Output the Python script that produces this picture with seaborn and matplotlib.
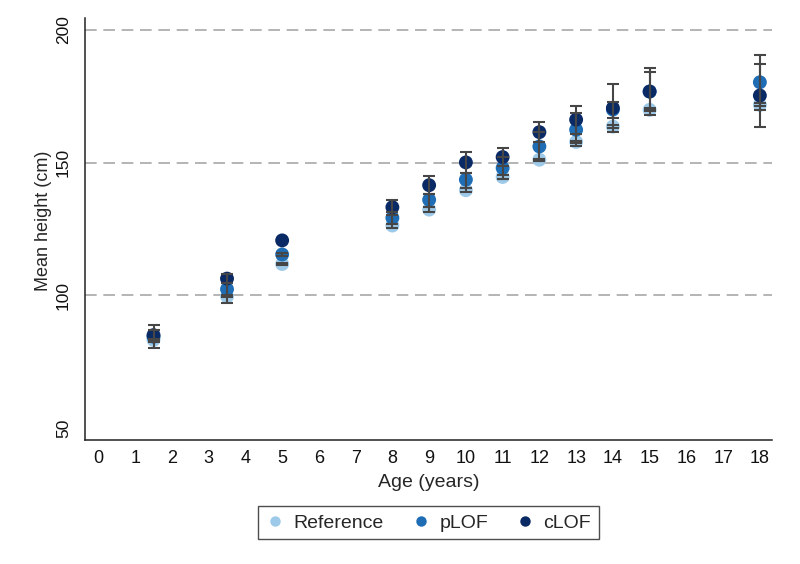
import numpy as np
import pandas as pd
import matplotlib
matplotlib.use("Agg")
import matplotlib.pyplot as plt
import seaborn as sns

# values
ages = [1.5, 3.5, 5, 8, 9, 10, 11, 12, 13, 14, 15, 18]

ref_mean = [83.2, 99.6, 111.8, 126.3, 132.3, 139.6, 144.6, 151.1, 157.8, 163.6, 169.9, 171.8]
ref_lo = [82.8, 99.2, 111.4, 125.3, 131.3, 138.8, 143.9, 150.6, 157.3, 163.0, 169.3, 171.3]
ref_hi = [83.7, 100.0, 112.3, 126.9, 133.2, 140.3, 145.2, 151.5, 158.3, 164.2, 170.5, 172.3]

plof_mean = [84.4, 102.3, 115.4, 129.2, 136.0, 143.6, 148.0, 156.1, 162.4, 170.0, 176.8, 180.3]
plof_lo = [82.4, 97.0, 114.9, 126.9, 133.3, 140.3, 143.9, 150.8, 156.1, 166.8, 169.7, 169.9]
plof_hi = [87.0, 104.8, 115.9, 131.3, 138.3, 146.1, 152.1, 161.4, 168.7, 172.8, 184.1, 190.6]

clof_mean = [85.0, 106.3, 120.7, 133.2, 141.5, 150.1, 152.1, 161.5, 166.2, 170.6, 176.8, 175.3]
clof_lo = [80.0, 104.7, np.nan, 130.1, 138.1, 146.1, 148.7, 157.7, 160.8, 161.6, 167.8, 163.6]
clof_hi = [88.7, 107.9, np.nan, 135.8, 144.9, 154.0, 155.5, 165.3, 171.5, 179.6, 185.6, 187.0]

groups = ["Reference", "pLOF", "cLOF"]
colors = ["#9ecae9", "#1f6db5", "#0a2a66"]
y_ticks = [50, 100, 150, 200]
grid_levels = [100, 150, 200]
x_ticks = list(range(0, 19))

df = pd.concat([
    pd.DataFrame({"age": ages, "mean": ref_mean, "lo": ref_lo, "hi": ref_hi, "group": "Reference"}),
    pd.DataFrame({"age": ages, "mean": plof_mean, "lo": plof_lo, "hi": plof_hi, "group": "pLOF"}),
    pd.DataFrame({"age": ages, "mean": clof_mean, "lo": clof_lo, "hi": clof_hi, "group": "cLOF"}),
], ignore_index=True)

sns.set_style("white")
plt.rcParams["font.family"] = ["Liberation Sans", "DejaVu Sans"]

fig = plt.figure(figsize=(8, 5.64), dpi=100)
ax = fig.add_axes([0.106, 0.22, 0.859, 0.748])

# dashed reference lines (none at the axis minimum)
ax.hlines(grid_levels, -0.37, 18.33, colors="#a8a8a8", linestyles=(0, (7, 4)),
          linewidth=1.2, zorder=0)

sns.scatterplot(data=df, x="age", y="mean", hue="group", hue_order=groups,
                palette=colors, s=100, edgecolor=None, linewidth=0, ax=ax, zorder=3)

for g in groups:
    sub = df[df["group"] == g].dropna(subset=["lo", "hi"])
    ax.errorbar(sub["age"], (sub["lo"] + sub["hi"]) / 2, yerr=(sub["hi"] - sub["lo"]) / 2,
                fmt="none", ecolor="#464646", elinewidth=1.5, capsize=4.5, capthick=1.5,
                zorder=4)

ax.set_xlim(-0.37, 18.33)
ax.set_ylim(45.5, 204.5)
ax.set_xticks(x_ticks)
ax.set_yticks(y_ticks)
ax.set_xticklabels([str(t) for t in x_ticks], fontsize=13)
ax.set_yticklabels([str(t) for t in y_ticks], fontsize=12.5, rotation=90, va="center")
ax.tick_params(axis="both", direction="out", length=5, width=1.1, color="#222222",
               labelcolor="#111111")
ax.tick_params(axis="x", pad=2.5)
ax.tick_params(axis="y", pad=5)

for side in ["top", "right"]:
    ax.spines[side].set_visible(False)
for side in ["left", "bottom"]:
    ax.spines[side].set_color("#222222")
    ax.spines[side].set_linewidth(1.1)

ax.set_xlabel("Age (years)", fontsize=14, labelpad=5)
ax.set_ylabel("Mean height (cm)", fontsize=13)
ax.yaxis.set_label_coords(-0.048, 0.52)

handles, labels = ax.get_legend_handles_labels()
ax.legend(handles=handles, labels=labels, ncol=3, loc="center",
          bbox_to_anchor=(0.5355, 0.073), bbox_transform=fig.transFigure,
          frameon=True, fancybox=False, edgecolor="#222222", fontsize=14,
          markerscale=0.75, handletextpad=0.45, columnspacing=1.4,
          borderpad=0.4, handlelength=1.0)
ax.get_legend().get_frame().set_linewidth(1.0)

plt.savefig("out.png", dpi=100)
plt.close()
